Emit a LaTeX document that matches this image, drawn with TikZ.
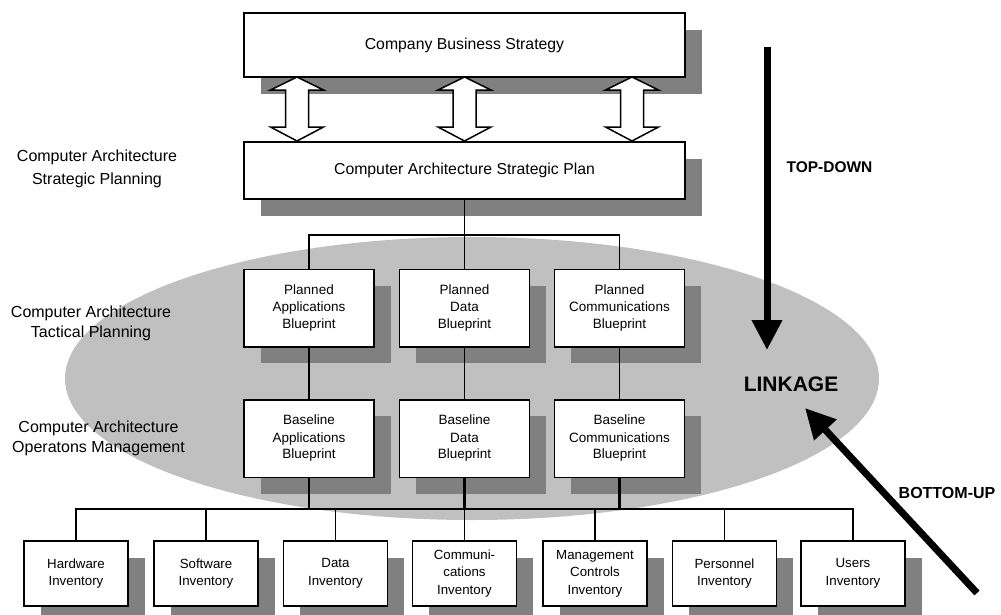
\documentclass[tikz,border=0pt]{standalone}
\usepackage{fontspec}
\setmainfont{Liberation Sans}
\usetikzlibrary{arrows.meta,shadows}
\definecolor{shadowgray}{HTML}{808080}
\definecolor{ellgray}{HTML}{C0C0C0}
\begin{document}
\begin{tikzpicture}[x=1pt,y=-1pt,
  box/.style={draw=black, line width=1.5pt, fill=white, inner sep=0pt, align=center,
    drop shadow={shadow xshift=16.5pt, shadow yshift=-16.5pt, fill=shadowgray, opacity=1}},
  bigbox/.style={box, minimum width=441pt, font=\fontsize{15.8}{19}\selectfont},
  midbox/.style={box, minimum width=130pt, minimum height=77.5pt, font=\fontsize{13.5}{17}\selectfont},
  invbox/.style={box, minimum width=104pt, minimum height=65pt, font=\fontsize{13.3}{17.5}\selectfont},
  sidelabel/.style={align=center, inner sep=0pt, font=\fontsize{16}{20}\selectfont},
  biglabel/.style={inner sep=0pt, font=\fontsize{15.5}{18}\selectfont\bfseries},
  conn/.style={draw=black, line width=1.5pt},
  heavyconn/.style={draw=black, line width=2.1pt},
  blockarrow/.style={draw=black, line width=1.5pt, fill=white, line join=miter},
  thickarrow/.style={draw=black, line width=7pt, -{Triangle[length=30pt,width=29pt]}}
]
\useasboundingbox (0,0) rectangle (1001,614);
\fill[white] (0,0) rectangle (1001,614);

% linkage ellipse
\fill[ellgray] (472,378.5) ellipse [x radius=407pt, y radius=141.5pt];

% side labels
\node[sidelabel, font=\fontsize{16}{23}\selectfont] (lstrat) at (97,168.5) {Computer Architecture\\Strategic Planning};
\node[sidelabel] (ltact) at (91,323) {Computer Architecture\\Tactical Planning};
\node[sidelabel] (loper) at (98.5,438) {Computer Architecture\\Operatons Management};

% top boxes
\node[bigbox, minimum height=64pt] (cbs) at (464.5,45) {Company Business Strategy};
\node[bigbox, minimum height=57pt] (casp) at (464.5,170.5) {Computer Architecture Strategic Plan};

% planned blueprints
\node[midbox] (pa) at (309,308) {Planned\\Applications\\Blueprint};
\node[midbox] (pd) at (464.5,308) {Planned\\Data\\Blueprint};
\node[midbox] (pc) at (619.5,308) {Planned\\Communications\\Blueprint};

% baseline blueprints
\node[midbox] (ba) at (309,438.5) {Baseline\\Applications\\Blueprint};
\node[midbox] (bd) at (464.5,438.5) {Baseline\\Data\\Blueprint};
\node[midbox] (bc) at (619.5,438.5) {Baseline\\Communications\\Blueprint};

% inventories
\node[invbox] (i1) at (76,573.5) {Hardware\\Inventory};
\node[invbox] (i2) at (206,573.5) {Software\\Inventory};
\node[invbox] (i3) at (335.5,573.5) {Data\\Inventory};
\node[invbox] (i4) at (464.5,573.5) {Communi-\\cations\\Inventory};
\node[invbox] (i5) at (595,573.5) {Management\\Controls\\Inventory};
\node[invbox] (i6) at (724.5,573.5) {Personnel\\Inventory};
\node[invbox] (i7) at (853,573.5) {Users\\Inventory};

% double block arrows between the top boxes
\foreach \x in {297,464.5,632}{
  \draw[blockarrow] (\x,77) -- (\x+26.5,90) -- (\x+11.5,90) -- (\x+11.5,127) -- (\x+26.5,127)
    -- (\x,141) -- (\x-26.5,127) -- (\x-11.5,127) -- (\x-11.5,90) -- (\x-26.5,90) -- cycle;
}

% tree connectors
\coordinate (ptop) at (464.5,235);
\coordinate (bbar) at (464.5,509);
\draw[conn] (casp.south) -- (pd.north);
\draw[conn] (pa.north) |- (ptop) -| (pc.north);
\draw[conn] (pa.south) -- (ba.north);
\draw[conn] (pd.south) -- (bd.north);
\draw[conn] (pc.south) -- (bc.north);
\draw[conn] (i1.north) |- (bbar) -| (i7.north);
\foreach \n in {i2,i3,i4,i5,i6}{ \draw[conn] (\n.north) |- (bbar); }
\draw[heavyconn] (ba.south) |- (bbar) -| (bc.south);
\draw[heavyconn] (bd.south) -- (bbar);

% linkage arrows and labels
\node[biglabel, font=\fontsize{21}{24}\selectfont\bfseries] (link) at (791,384) {LINKAGE};
\node[biglabel] (td) at (829.5,167) {TOP-DOWN};
\node[biglabel, font=\fontsize{16}{18}\selectfont\bfseries] (bu) at (947,493) {BOTTOM-UP};
\coordinate (tdstart) at (767,47);
\coordinate (tdend) at (767,350);
\coordinate (bustart) at (977,593);
\coordinate (buend) at (805,408);
\draw[thickarrow] (tdstart) -- (tdend);
\draw[thickarrow] (bustart) -- (buend);
\end{tikzpicture}
\end{document}
